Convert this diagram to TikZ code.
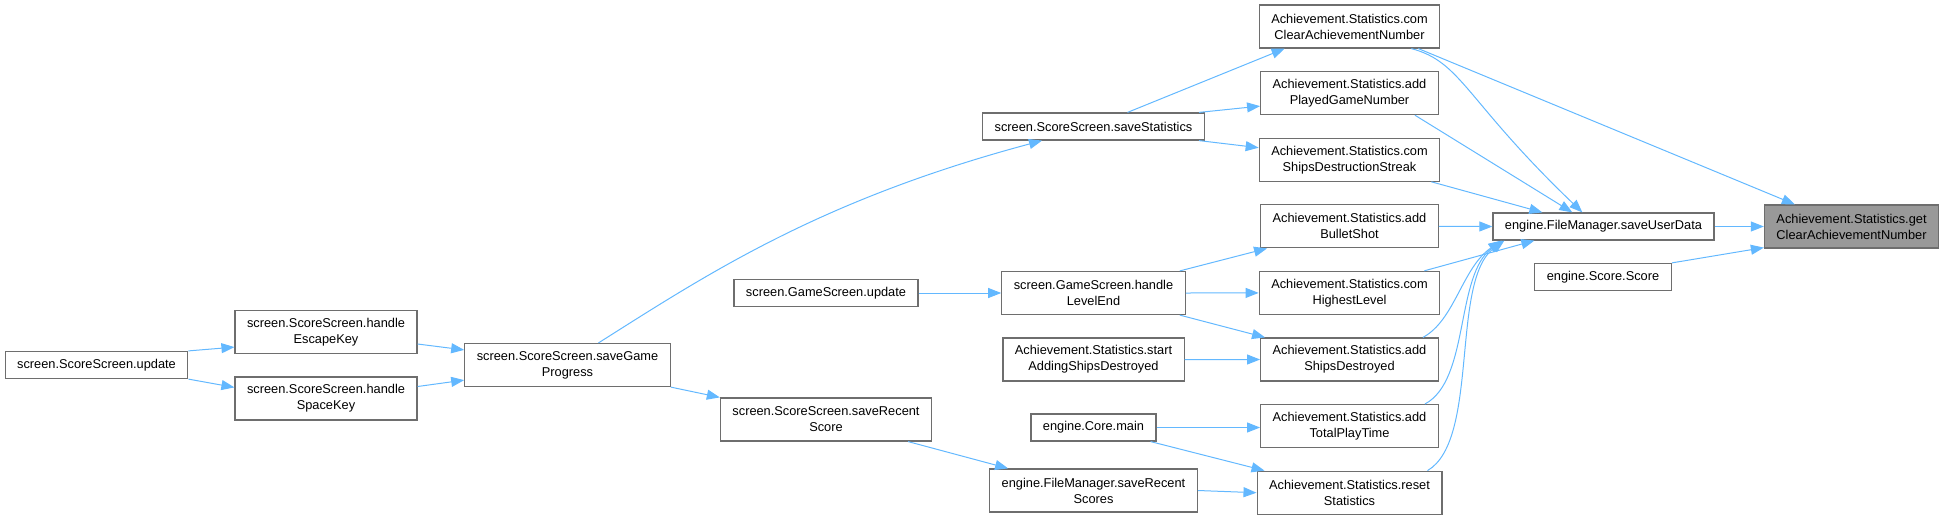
\documentclass[tikz,border=0pt]{standalone}
\usepackage{fontspec}
\setmainfont{Liberation Sans}
\usetikzlibrary{positioning,calc,arrows.meta}
\definecolor{edgeblue}{HTML}{63B8FF}
\definecolor{boxborder}{HTML}{6E6E6E}
\definecolor{rootgray}{HTML}{999999}

\begin{document}
\begin{tikzpicture}[
    x=1pt, y=-1pt,
    node distance=22.4pt,
    font=\fontsize{12.8}{16}\selectfont,
    fn/.style={rectangle, draw=boxborder, line width=1.2pt, fill=white, inner xsep=12pt, inner ysep=2pt, minimum height=27pt, align=center},
    fn2/.style={fn, minimum height=43pt},
    target/.style={fn2, fill=rootgray},
    call/.style={draw=edgeblue, line width=1pt, -{Triangle[length=13pt,width=10pt]}}
]
    \useasboundingbox (0,0) rectangle (1946,520);

    % Score screen callers
    \node[fn] (ssupdate) at (96.5,365) {screen.ScoreScreen.update};
    \node[fn2] (escapekey) at (326,332) {screen.ScoreScreen.handle\\EscapeKey};
    \node[fn2] (spacekey) at (326,398.5) {screen.ScoreScreen.handle\\SpaceKey};
    \node[fn2] (savegame) at (567.5,365) {screen.ScoreScreen.saveGame\\Progress};
    \node[fn2] (saverecent) at (826,419.5) {screen.ScoreScreen.saveRecent\\Score};
    \node[fn] (gsupdate) at (826,293) {screen.GameScreen.update};

    % Middle column
    \node[fn] (savestats) at (1093.5,126.5) {screen.ScoreScreen.saveStatistics};
    \node[fn2] (levelend) at (1093.5,293) {screen.GameScreen.handle\\LevelEnd};
    \node[fn2] (startships) at (1093.5,359.5) {Achievement.Statistics.start\\AddingShipsDestroyed};
    \node[fn] (coremain) at (1093.5,427.5) {engine.Core.main};
    \node[fn2] (saverecents) at (1093.5,490.5) {engine.FileManager.saveRecent\\Scores};

    % Statistics column
    \node[fn2] (clearnum) at (1349.5,26.5) {Achievement.Statistics.com\\ClearAchievementNumber};
    \node[fn2, below=of clearnum] (playednum) {Achievement.Statistics.add\\PlayedGameNumber};
    \node[fn2, below=of playednum] (destrstreak) {Achievement.Statistics.com\\ShipsDestructionStreak};
    \node[fn2, below=of destrstreak] (bulletshot) {Achievement.Statistics.add\\BulletShot};
    \node[fn2, below=of bulletshot] (highlevel) {Achievement.Statistics.com\\HighestLevel};
    \node[fn2, below=of highlevel] (addships) {Achievement.Statistics.add\\ShipsDestroyed};
    \node[fn2, below=of addships] (playtime) {Achievement.Statistics.add\\TotalPlayTime};
    \node[fn2, below=of playtime] (resetstats) {Achievement.Statistics.reset\\Statistics};

    % Right side
    \node[fn] (saveuser) at (1603.5,226.5) {engine.FileManager.saveUserData};
    \node[fn] (scorector) at (1603,277) {engine.Score.Score};
    \node[target] (getclear) at (1851.5,226.5) {Achievement.Statistics.get\\ClearAchievementNumber};

    % Edges
    \draw[call] (ssupdate.north east) -- ($(escapekey.south west)+(0,-7)$);
    \draw[call] (ssupdate.south east) -- ($(spacekey.north west)+(0,11)$);
    \draw[call] ($(escapekey.east)+(0,12)$) -- ($(savegame.north west)+(0,7)$);
    \draw[call] ($(spacekey.east)+(0,-12)$) -- ($(savegame.south west)+(0,-7)$);
    \draw[call] ($(savegame.north)+(31,0)$) .. controls (709,273) and (820,200) .. ($(savestats.south west)+(60,0)$);
    \draw[call] (savegame.south east) -- (saverecent.north west);
    \draw[call] ($(savestats.north)+(34,0)$) -- ($(clearnum.south west)+(26,0)$);
    \draw[call] ($(savestats.north east)+(-6,0)$) -- ($(playednum.west)+(0,13)$);
    \draw[call] ($(savestats.south east)+(-6,0)$) -- ($(destrstreak.west)+(0,-12)$);
    \draw[call] (gsupdate.east) -- (levelend.west);
    \draw[call] ($(levelend.north east)+(-6,0)$) -- ($(bulletshot.south west)+(7,0)$);
    \draw[call] (levelend.east) -- (highlevel.west);
    \draw[call] ($(levelend.south east)+(-6,0)$) -- ($(addships.north west)+(5,0)$);
    \draw[call] (startships.east) -- (addships.west);
    \draw[call] ($(saverecent.south east)+(-24,0)$) -- ($(saverecents.north west)+(19,0)$);
    \draw[call] (coremain.east) -- (coremain.east -| playtime.west);
    \draw[call] ($(coremain.south east)+(-6,0)$) -- ($(resetstats.north west)+(8,0)$);
    \draw[call] (saverecents.east) -- (resetstats.west);
    \draw[call] ($(clearnum.south east)+(-29,0)$) .. controls (1462,62) and (1465,100) .. ($(saveuser.north west)+(90,0)$);
    \draw[call] ($(playednum.south east)+(-24,0)$) -- ($(saveuser.north west)+(80,0)$);
    \draw[call] ($(destrstreak.south east)+(-9,0)$) -- ($(saveuser.north west)+(50,0)$);
    \draw[call] (bulletshot.east) -- (saveuser.west);
    \draw[call] ($(highlevel.north east)+(-16,0)$) -- ($(saveuser.south west)+(42,0)$);
    \draw[call] ($(addships.north east)+(-16,0)$) .. controls (1455,320) and (1462,268) .. ($(saveuser.south west)+(9,0)$);
    \draw[call] ($(playtime.north east)+(-14,0)$) .. controls (1470,380) and (1455,275) .. ($(saveuser.south west)+(10,0)$);
    \draw[call] ($(resetstats.north east)+(-15,0)$) .. controls (1480,440) and (1450,280) .. ($(saveuser.south west)+(12,0)$);
    \draw[call] ($(clearnum.south east)+(-22,0)$) -- ($(getclear.north west)+(31,0)$);
    \draw[call] (saveuser.east) -- (getclear.west);
    \draw[call] (scorector.north east) -- ($(getclear.south west)+(0,-1)$);
\end{tikzpicture}
\end{document}
